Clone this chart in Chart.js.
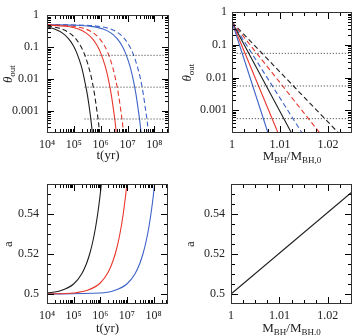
<!DOCTYPE html>
<html>
<head>
<meta charset="utf-8">
<script src="https://cdn.jsdelivr.net/npm/chart.js@4.4.1/dist/chart.umd.min.js"></script>
<style>
  html, body { margin: 0; padding: 0; background: #fff; }
  #wrap { position: relative; width: 358px; height: 335px; overflow: hidden; }
  canvas { position: absolute; }
</style>
</head>
<body>
<div id="wrap">
  <canvas id="tl" width="179" height="167" style="left:0;top:0"></canvas>
  <canvas id="tr" width="179" height="167" style="left:179px;top:0"></canvas>
  <canvas id="bl" width="179" height="168" style="left:0;top:167px"></canvas>
  <canvas id="br" width="179" height="168" style="left:179px;top:167px"></canvas>
</div>
<script>
// ---- data ----
// top left: theta_out vs t (yr)
const tBlackSolid  = [1e4, 1.9e4, 3.8e4, 6.3e4, 9.5e4, 1.26e5, 1.9e5, 2.5e5, 3.15e5, 3.8e5, 4.4e5, 4.9e5];
const thBlackSolid = [0.43, 0.37, 0.274, 0.184, 0.112, 0.068, 0.025, 0.0092, 0.0034, 0.0012, 0.00046, 0.0002];
const tBlackDash   = [1e4, 3.5e4, 7e4, 1.17e5, 1.75e5, 2.34e5, 3.5e5, 4.7e5, 5.85e5, 7e5, 8.2e5, 9.1e5];
const thBlackDash  = [0.46, 0.37, 0.274, 0.184, 0.112, 0.068, 0.025, 0.0092, 0.0034, 0.0012, 0.00046, 0.0002];
const tRedSolid    = [1e4, 4.9e4, 1.47e5, 2.9e5, 4.9e5, 7.35e5, 9.8e5, 1.47e6, 1.96e6, 2.45e6, 2.94e6, 3.43e6, 3.8e6];
const thRedSolid   = [0.49, 0.45, 0.37, 0.274, 0.184, 0.112, 0.068, 0.025, 0.0092, 0.0034, 0.0012, 0.00046, 0.0002];
const tRedDash     = [1e4, 2.7e4, 9.1e4, 2.7e5, 5.5e5, 9.1e5, 1.37e6, 1.82e6, 2.73e6, 3.64e6, 4.55e6, 5.46e6, 6.37e6, 7.1e6];
const thRedDash    = [0.5, 0.485, 0.45, 0.37, 0.274, 0.184, 0.112, 0.068, 0.025, 0.0092, 0.0034, 0.0012, 0.00046, 0.0002];
const tBlueSolid   = [1e4, 1.23e5, 4.1e5, 1.23e6, 2.46e6, 4.1e6, 6.15e6, 8.2e6, 1.23e7, 1.64e7, 2.05e7, 2.46e7, 2.87e7, 3.2e7];
const thBlueSolid  = [0.5, 0.485, 0.45, 0.37, 0.274, 0.184, 0.112, 0.068, 0.025, 0.0092, 0.0034, 0.0012, 0.00046, 0.0002];
const tBlueDash    = [1e4, 2.3e5, 7.7e5, 2.3e6, 4.6e6, 7.7e6, 1.15e7, 1.54e7, 2.3e7, 3.1e7, 3.85e7, 4.6e7, 5.4e7, 6e7];
const thBlueDash   = [0.5, 0.485, 0.45, 0.37, 0.274, 0.184, 0.112, 0.068, 0.025, 0.0092, 0.0034, 0.0012, 0.00046, 0.0002];

// dotted reference levels (both top panels)
const dottedLevels = [0.055, 0.0055, 0.00055];
const dottedTRange = [2.5e5, 3.5e8];
const dottedMRange = [1.001, 1.025];

// top right: theta_out vs M_BH/M_BH,0 (straight lines from start to end)
const mLineStart  = 1;
const thLineStart = 0.5;
const thLineEnd   = 0.0002;
const mEndNames   = ['blueSolid', 'redSolid', 'blackSolid', 'blueDash', 'redDash', 'blackDash'];
const mEnds       = [1.0075, 1.0096, 1.0124, 1.0146, 1.0183, 1.0222];

// bottom left: a vs t (yr)
const tBlackA = [1e4, 3e4, 1e5, 2e5, 3e5, 4e5, 5e5, 6e5, 7e5, 8e5, 9e5, 1e6, 1.1e6];
const aBlack  = [0.5005, 0.5015, 0.505, 0.510, 0.515, 0.520, 0.525, 0.530, 0.535, 0.540, 0.545, 0.550, 0.555];
const tRedA   = [1e4, 1e5, 3e5, 1e6, 2e6, 3e6, 4e6, 5e6, 6e6, 7e6, 8e6, 9e6, 1e7];
const aRed    = [0.5, 0.5005, 0.5017, 0.5055, 0.511, 0.5165, 0.522, 0.5275, 0.533, 0.5385, 0.544, 0.5495, 0.555];
const tBlueA  = [1e4, 1e6, 3e6, 1e7, 2e7, 3e7, 4e7, 5e7, 6e7, 7e7, 8e7, 9e7, 1e8, 1.1e8];
const aBlue   = [0.5, 0.5005, 0.5015, 0.505, 0.510, 0.515, 0.520, 0.525, 0.530, 0.535, 0.540, 0.545, 0.550, 0.555];

// bottom right: a vs M_BH/M_BH,0
const mA = [1, 1.025];
const aM = [0.5, 0.551];

// axis ticks
const tTicks      = [1e4, 1e5, 1e6, 1e7, 1e8];
const tTickLabels = ['10\u2074', '10\u2075', '10\u2076', '10\u2077', '10\u2078'];
const thTicks     = [1, 0.1, 0.01, 0.001];
const thTickLabels= ['1', '0.1', '0.01', '0.001'];
const mTicks      = [1, 1.01, 1.02];
const mTickLabels = ['1', '1.01', '1.02'];
const aTicks      = [0.5, 0.52, 0.54];
const aTickLabels = ['0.5', '0.52', '0.54'];

// ---- styling ----
const BLACK = '#1e1e1e', RED = '#e8362c', BLUE = '#3c62c8';
const DASH = [5, 3];
const FONT = 'Liberation Serif, Times New Roman, serif';

// minor/major steps for the inside tick marks of the linear axes
const mStep = { major: 0.01, minor: 0.0025 };
const aStep = { major: 0.02, minor: 0.005 };

function pts(xs, ys) { return xs.map((x, i) => ({ x, y: ys[i] })); }

function curve(xs, ys, color, dashed) {
  return {
    data: pts(xs, ys), borderColor: color, borderWidth: 1.1,
    borderDash: dashed ? DASH : [], pointRadius: 0,
    cubicInterpolationMode: 'monotone', fill: false
  };
}

function dotted(range, level) {
  return {
    data: [{ x: range[0], y: level }, { x: range[1], y: level }],
    borderColor: '#333', borderWidth: 1, borderDash: [1, 2], pointRadius: 0, fill: false
  };
}

// tick marks inside the frame, on all four sides
function frameTicks(scale, step) {
  const out = [];
  if (scale.type === 'logarithmic') {
    const lo = Math.floor(Math.log10(scale.min)), hi = Math.ceil(Math.log10(scale.max));
    for (let d = lo; d <= hi; d++) {
      for (let k = 1; k <= 9; k++) {
        const v = k * Math.pow(10, d);
        if (v >= scale.min * 0.999 && v <= scale.max * 1.001) out.push({ v, major: k === 1 });
      }
    }
  } else if (step) {
    const n0 = Math.ceil(scale.min / step.minor - 1e-6);
    const n1 = Math.floor(scale.max / step.minor + 1e-6);
    for (let n = n0; n <= n1; n++) {
      const v = n * step.minor;
      const r = v / step.major;
      out.push({ v, major: Math.abs(r - Math.round(r)) < 1e-6 });
    }
  }
  return out;
}

// steps are kept per canvas id, outside the option resolver
const panelSteps = {};

const framePlugin = {
  id: 'frame',
  afterDraw(chart) {
    const ctx = chart.ctx;
    const a = chart.chartArea;
    const x = chart.scales.x, y = chart.scales.y;
    const st = panelSteps[chart.canvas.id] || {};
    const L = Math.round(a.left), R = Math.round(a.right) - 1;
    const T = Math.round(a.top), B = Math.round(a.bottom) - 1;
    ctx.save();
    ctx.fillStyle = '#000';
    for (const tk of frameTicks(x, st.x)) {
      const p = Math.round(x.getPixelForValue(tk.v));
      if (p <= L || p >= R) continue;
      const len = tk.major ? 7 : 4;
      ctx.fillRect(p, B - len + 1, 1, len);
      ctx.fillRect(p, T, 1, len);
    }
    for (const tk of frameTicks(y, st.y)) {
      const p = Math.round(y.getPixelForValue(tk.v));
      if (p <= T || p >= B) continue;
      const len = tk.major ? 7 : 4;
      ctx.fillRect(L, p, len, 1);
      ctx.fillRect(R - len + 1, p, len, 1);
    }
    ctx.fillStyle = '#333';
    ctx.fillRect(L, T, R - L + 1, 1);
    ctx.fillRect(L, B, R - L + 1, 1);
    ctx.fillRect(L, T, 1, B - T + 1);
    ctx.fillRect(R, T, 1, B - T + 1);
    ctx.restore();
  }
};

// titles with subscripts: parts = [[text, kind]] kind: 'n' | 'i' | 's'
function partFont(kind) {
  if (kind === 's') return '9px ' + FONT;
  if (kind === 'i') return 'italic 13px ' + FONT;
  return '13px ' + FONT;
}
function drawRich(ctx, parts, cx, baseY) {
  let w = 0;
  parts.forEach(([txt, kind]) => { ctx.font = partFont(kind); w += ctx.measureText(txt).width; });
  let xx = cx - w / 2;
  parts.forEach(([txt, kind]) => {
    ctx.font = partFont(kind);
    ctx.fillText(txt, xx, baseY + (kind === 's' ? 3 : 0));
    xx += ctx.measureText(txt).width;
  });
}

const titlePlugin = {
  id: 'titles',
  afterDraw(chart, args, o) {
    const { ctx, chartArea: a } = chart;
    ctx.save();
    ctx.fillStyle = '#222';
    ctx.textBaseline = 'alphabetic';
    drawRich(ctx, o.x, (a.left + a.right) / 2, o.xBase);
    ctx.translate(o.yX, (a.top + a.bottom) / 2);
    ctx.rotate(-Math.PI / 2);
    drawRich(ctx, o.y, 0, 4);
    ctx.restore();
  }
};

const tTitle = [['t(yr)', 'n']];
const mTitle = [['M', 'n'], ['BH', 's'], ['/M', 'n'], ['BH,0', 's']];
const thTitle = [['\u03b8', 'i'], ['out', 's']];
const aTitle = [['a', 'n']];

function axis(type, min, max, ticks, labels, pad, fit) {
  return {
    type, min, max, bounds: 'data',
    grid: { display: false, drawTicks: false },
    border: { display: false },
    ticks: {
      autoSkip: false, maxRotation: 0, padding: pad,
      color: '#222', font: { family: FONT, size: 12 },
      callback: (v, i) => labels[i]
    },
    afterBuildTicks: s => { s.ticks = ticks.map(v => ({ value: v })); },
    afterFit: fit
  };
}

function panel(id, p) {
  panelSteps[id] = { x: p.xStep, y: p.yStep };
  return new Chart(document.getElementById(id), {
    type: 'line',
    data: { datasets: p.datasets },
    options: {
      responsive: false,
      animation: false,
      events: [],
      layout: { padding: { left: 0, top: p.top, right: p.right, bottom: 0 } },
      plugins: {
        legend: { display: false },
        tooltip: { enabled: false },
        titles: { x: p.xTitle, y: p.yTitle, xBase: p.xBase, yX: p.yX }
      },
      scales: {
        x: axis(p.xType, p.xMin, p.xMax, p.xTicks, p.xLabels, p.xPad, s => { s.height = p.xH; }),
        y: axis(p.yType, p.yMin, p.yMax, p.yTicks, p.yLabels, p.yPad, s => { s.width = p.yW; })
      }
    },
    plugins: [framePlugin, titlePlugin]
  });
}

const colorOf = { blue: BLUE, red: RED, black: BLACK };

panel('tl', {
  datasets: [
    ...dottedLevels.map(l => dotted(dottedTRange, l)),
    curve(tBlackSolid, thBlackSolid, BLACK, false),
    curve(tBlackDash, thBlackDash, BLACK, true),
    curve(tRedSolid, thRedSolid, RED, false),
    curve(tRedDash, thRedDash, RED, true),
    curve(tBlueSolid, thBlueSolid, BLUE, false),
    curve(tBlueDash, thBlueDash, BLUE, true)
  ],
  top: 12, right: 10, yW: 47, xH: 34,
  xType: 'logarithmic', xMin: 1e4, xMax: 3.5e8, xTicks: tTicks, xLabels: tTickLabels, xPad: 5,
  yType: 'logarithmic', yMin: 2e-4, yMax: 1, yTicks: thTicks, yLabels: thTickLabels, yPad: 8,
  xTitle: tTitle, yTitle: thTitle, xBase: 159, yX: 8
});

panel('tr', {
  datasets: [
    ...dottedLevels.map(l => dotted(dottedMRange, l)),
    ...mEnds.map((m, i) => {
      const name = mEndNames[i];
      const col = colorOf[name.replace(/Solid|Dash/, '')];
      return curve([mLineStart, m], [thLineStart, thLineEnd], col, name.endsWith('Dash'));
    })
  ],
  top: 12, right: 6, yW: 53, xH: 34,
  xType: 'linear', xMin: 1, xMax: 1.025, xTicks: mTicks, xLabels: mTickLabels, xPad: 5,
  yType: 'logarithmic', yMin: 2e-4, yMax: 1, yTicks: thTicks, yLabels: thTickLabels, yPad: 5,
  xStep: mStep,
  xTitle: mTitle, yTitle: thTitle, xBase: 160, yX: 8
});

panel('bl', {
  datasets: [
    curve(tBlackA, aBlack, BLACK, false),
    curve(tRedA, aRed, RED, false),
    curve(tBlueA, aBlue, BLUE, false)
  ],
  top: 17, right: 11, yW: 47, xH: 31,
  xType: 'logarithmic', xMin: 1e4, xMax: 3.5e8, xTicks: tTicks, xLabels: tTickLabels, xPad: 5,
  yType: 'linear', yMin: 0.495, yMax: 0.555, yTicks: aTicks, yLabels: aTickLabels, yPad: 8,
  yStep: aStep,
  xTitle: tTitle, yTitle: aTitle, xBase: 165, yX: 8
});

panel('br', {
  datasets: [
    curve(mA, aM, BLACK, false)
  ],
  top: 17, right: 6, yW: 52, xH: 31,
  xType: 'linear', xMin: 1, xMax: 1.025, xTicks: mTicks, xLabels: mTickLabels, xPad: 5,
  yType: 'linear', yMin: 0.495, yMax: 0.555, yTicks: aTicks, yLabels: aTickLabels, yPad: 6,
  xStep: mStep,
  yStep: aStep,
  xTitle: mTitle, yTitle: aTitle, xBase: 165, yX: 11
});
</script>
</body>
</html>
